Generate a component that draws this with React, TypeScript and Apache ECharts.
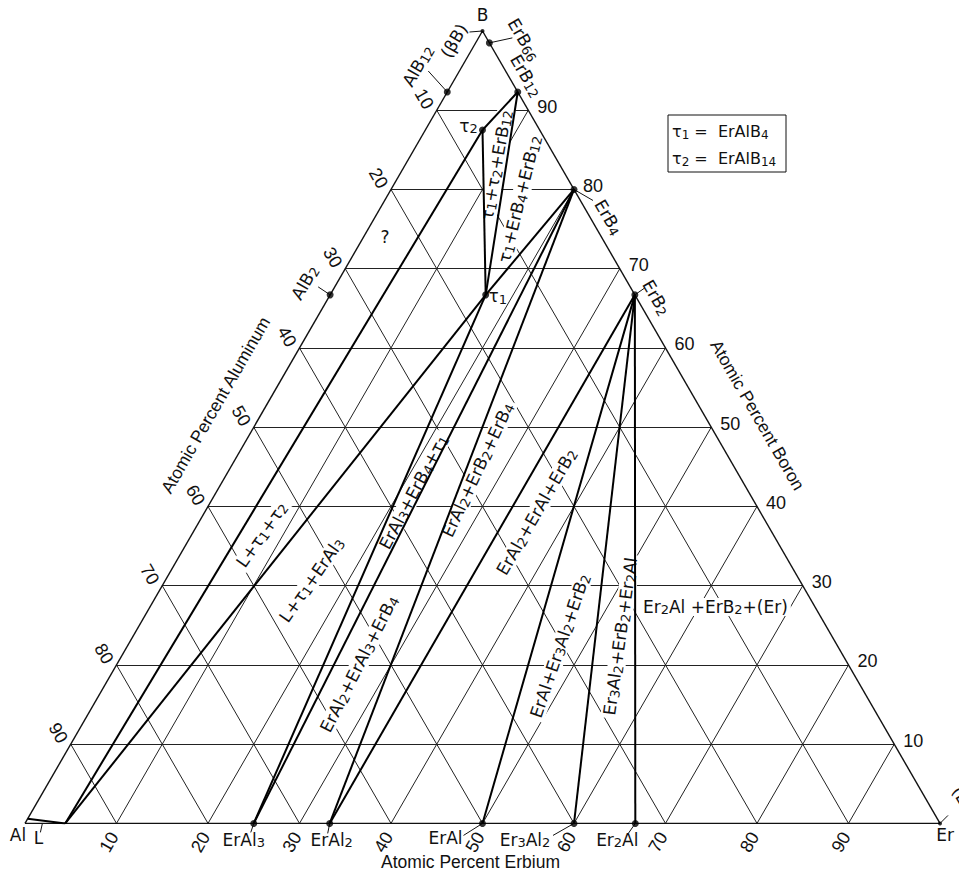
import React, { useEffect, useRef } from "react";
import * as echarts from "echarts";

// ---------------- data ----------------
const TICKS = [10, 20, 30, 40, 50, 60, 70, 80, 90];
const TICK_LABELS = ["10", "20", "30", "40", "50", "60", "70", "80", "90"];

// phase compositions: at.% Er, at.% B (Al = remainder)
const compoundNames = ["Al", "Er", "B", "ErAl3", "ErAl2", "ErAl", "Er3Al2", "Er2Al", "ErB2", "ErB4", "ErB12", "ErB66", "AlB12", "AlB2", "τ1", "τ2", "L", "Lb"];
const compoundEr = [0, 100, 0, 25, 33.3, 50, 60, 66.7, 33.3, 20, 7.7, 1.5, 0, 0, 17, 6.25, 4.4, 0];
const compoundB = [0, 0, 100, 0, 0, 0, 0, 0, 66.7, 80, 92.3, 98.5, 92.3, 66.7, 66.7, 87.5, 0, 0.6];

const dottedPhases = ["ErAl3", "ErAl2", "ErAl", "Er3Al2", "Er2Al", "ErB2", "ErB4", "ErB12", "ErB66", "AlB12", "AlB2", "τ1", "τ2"];
const vertexDots = ["B", "Er"];

// tie lines (three-phase triangle sides)
const tieFrom = ["L", "L", "τ1", "τ2", "τ1", "τ1", "τ1", "ErB4", "ErB4", "ErB2", "ErB2", "ErB2", "ErB2", "Lb"];
const tieTo = ["τ2", "τ1", "τ2", "ErB12", "ErB12", "ErB4", "ErAl3", "ErAl3", "ErAl2", "ErAl2", "ErAl", "Er3Al2", "Er2Al", "L"];

// phase-field labels: text, anchor composition (Er, B), rotation
const regionText = ["τ_1+τ_2+ErB_12", "τ_1+ErB_4+ErB_12", "L+τ_1+τ_2", "L+τ_1+ErAl_3", "ErAl_2+ErAl_3+ErB_4", "ErAl_3+ErB_4+τ_1", "ErAl_2+ErB_2+ErB_4", "ErAl_2+ErAl+ErB_2", "ErAl+Er_3Al_2+ErB_2", "Er_3Al_2+ErB_2+Er_2Al", "Er_2Al +ErB_2+(Er)", "?"];
const regionEr = [10.0, 14.7, 7.7, 16.0, 26.5, 21.6, 27.2, 36.3, 47.3, 53.3, 61.8, 2.4];
const regionB = [83.1, 78.8, 36.4, 30.7, 20.1, 41.8, 44.6, 39.3, 22.4, 23.6, 27.3, 73.9];
const regionRot = [80, 76, 55, 55, 63, 62, 65, 60, 71, 82, 0, 0];

// ---------------- helpers ----------------
const S = Math.sqrt(3) / 2;
const xy = (er: number, b: number) => [(er + b / 2) / 100, (b / 100) * S];
const compOf = (name: string) => {
  const i = compoundNames.indexOf(name);
  return [compoundEr[i], compoundB[i]];
};
const FONT_LAB = "'DejaVu Sans', sans-serif";
const FONT_AX = "'Liberation Sans', Arial, sans-serif";

function richText(s: string) {
  const parts = s.split(/_(\d+)/);
  let out = "";
  parts.forEach((p, i) => {
    if (!p) return;
    out += i % 2 === 1 ? `{s|${p}}` : `{m|${p}}`;
  });
  return out;
}

type Lab = { t: string; at: number[]; dx?: number; dy?: number; rot?: number; leader?: number[]; bg?: boolean; size?: number; font?: string };

const labels: Lab[] = [];
TICKS.forEach((k, i) => {
  labels.push({ t: TICK_LABELS[i], at: [k, 0], dx: -7, dy: 19, rot: 60, font: FONT_AX, size: 18 });
  labels.push({ t: TICK_LABELS[i], at: [0, 100 - k], dx: -13, dy: -11, rot: -60, font: FONT_AX, size: 18 });
  labels.push({ t: TICK_LABELS[i], at: [100 - k, k], dx: 19, dy: -3, rot: 0, font: FONT_AX, size: 18 });
});
labels.push({ t: "Atomic Percent Erbium", at: [50, 0], dx: -12, dy: 39, font: FONT_AX, size: 17.5 });
labels.push({ t: "Atomic Percent Aluminum", at: [0, 50], dx: -38, dy: -22, rot: 60, font: FONT_AX, size: 17.5 });
labels.push({ t: "Atomic Percent Boron", at: [50, 50], dx: 46, dy: -12, rot: -60, font: FONT_AX, size: 17.5 });

regionText.forEach((t, i) => {
  labels.push({ t, at: [regionEr[i], regionB[i]], rot: regionRot[i], bg: true });
});

const compoundLabels: { t: string; of: string; dx: number; dy: number; rot?: number; leader?: number[] }[] = [
  { t: "B", of: "B", dx: 0, dy: -16 },
  { t: "(βB)", of: "B", dx: -28, dy: 10, rot: 60, leader: [-13, 1] },
  { t: "ErB_66", of: "ErB66", dx: 34, dy: -3, rot: -60, leader: [23, -5] },
  { t: "ErB_12", of: "ErB12", dx: 8, dy: -16, rot: -60 },
  { t: "ErB_4", of: "ErB4", dx: 34, dy: 28, rot: -60, leader: [19, 11] },
  { t: "ErB_2", of: "ErB2", dx: 21, dy: 3, rot: -60, leader: [10, -7] },
  { t: "AlB_12", of: "AlB12", dx: -29, dy: -26, rot: 60, leader: [-19, -21] },
  { t: "AlB_2", of: "AlB2", dx: -25, dy: -12, rot: 60, leader: [-12, -8] },
  { t: "τ_2", of: "τ2", dx: -14, dy: -4 },
  { t: "τ_1", of: "τ1", dx: 12, dy: 2 },
  { t: "ErAl_3", of: "ErAl3", dx: -10, dy: 17, leader: [-3, 9] },
  { t: "ErAl_2", of: "ErAl2", dx: 2, dy: 17, leader: [-2, 10] },
  { t: "ErAl", of: "ErAl", dx: -37, dy: 15, leader: [-19, 12] },
  { t: "Er_3Al_2", of: "Er3Al2", dx: -49, dy: 17, leader: [-21, 12] },
  { t: "Er_2Al", of: "Er2Al", dx: -18, dy: 17, leader: [-7, 10] },
  { t: "Al", of: "Al", dx: -7, dy: 12 },
  { t: "Er", of: "Er", dx: 5, dy: 12 },
  { t: "(Er)", of: "Er", dx: 24, dy: -22, rot: -60, leader: [8, -8] },
];
compoundLabels.forEach((c) => labels.push({ t: c.t, at: compOf(c.of), dx: c.dx, dy: c.dy, rot: c.rot, leader: c.leader }));
labels.push({ t: "L", at: [1.9, 0], dx: -4, dy: 15, leader: [-2, 9] });

// grid segments
const gridSegs: number[][][] = [];
TICKS.forEach((k) => {
  gridSegs.push([xy(0, k), xy(100 - k, k)]);
  gridSegs.push([xy(k, 0), xy(k, 100 - k)]);
  gridSegs.push([xy(0, 100 - k), xy(100 - k, 0)]);
});
const edgeSegs = [
  [xy(0, 0), xy(100, 0)],
  [xy(100, 0), xy(0, 100)],
  [xy(0, 100), xy(0, 0)],
];
const tieSegs = tieFrom.map((f, i) => {
  const a = compOf(f);
  const b = compOf(tieTo[i]);
  return [xy(a[0], a[1]), xy(b[0], b[1])];
});

export default function App() {
  const ref = useRef<HTMLDivElement>(null);
  useEffect(() => {
    if (!ref.current) return;
    const chart = echarts.init(ref.current, undefined, { renderer: "svg" });
    const option: any = {
      animation: false,
      backgroundColor: "#fff",
      grid: { left: 25, top: 31, width: 915, height: 915 * S, containLabel: false },
      xAxis: { type: "value", min: 0, max: 1, show: false },
      yAxis: { type: "value", min: 0, max: S, show: false },
      series: [
        {
          type: "lines",
          coordinateSystem: "cartesian2d",
          z: 1,
          silent: true,
          lineStyle: { color: "#222", width: 1, opacity: 1 },
          data: gridSegs.map((c) => ({ coords: c })),
        },
        {
          type: "custom",
          coordinateSystem: "cartesian2d",
          z: 2,
          clip: false,
          silent: true,
          data: labels.map((l) => xy(l.at[0], l.at[1])),
          renderItem: (params: any, api: any) => {
            const L = labels[params.dataIndex];
            const p = api.coord([api.value(0), api.value(1)]);
            const children: any[] = [];
            if (L.leader) {
              children.push({
                type: "line",
                shape: { x1: p[0], y1: p[1], x2: p[0] + L.leader[0], y2: p[1] + L.leader[1] },
                style: { stroke: "#111", lineWidth: 1 },
              });
            }
            const fs = L.size ?? 17;
            const sub = Math.round(fs * 0.76);
            const ff = L.font ?? FONT_LAB;
            const style: any = {
              text: richText(L.t),
              align: "center",
              verticalAlign: "middle",
              fill: "#111",
              rich: {
                m: { fontSize: fs, fontFamily: ff, lineHeight: fs + 1, verticalAlign: "top", fill: "#111" },
                s: { fontSize: sub, fontFamily: ff, lineHeight: sub, padding: [Math.round(fs * 0.42), 0, 0, 0], verticalAlign: "bottom", fill: "#111" },
              },
            };
            if (L.bg) {
              style.backgroundColor = "#fff";
              style.padding = [0, 3];
            }
            children.push({
              type: "text",
              x: p[0] + (L.dx ?? 0),
              y: p[1] + (L.dy ?? 0),
              rotation: ((L.rot ?? 0) * Math.PI) / 180,
              style,
            });
            return { type: "group", children };
          },
        },
        {
          type: "lines",
          coordinateSystem: "cartesian2d",
          z: 3,
          silent: true,
          lineStyle: { color: "#111", width: 1.4, opacity: 1 },
          data: edgeSegs.map((c) => ({ coords: c })),
        },
        {
          type: "lines",
          coordinateSystem: "cartesian2d",
          z: 3,
          silent: true,
          lineStyle: { color: "#000", width: 2, opacity: 1 },
          data: tieSegs.map((c) => ({ coords: c })),
        },
        {
          type: "scatter",
          z: 4,
          silent: true,
          symbolSize: 7,
          itemStyle: { color: "#000" },
          data: dottedPhases.map((n) => {
            const c = compOf(n);
            return xy(c[0], c[1]);
          }),
        },
        {
          type: "scatter",
          z: 4,
          silent: true,
          symbolSize: 4,
          itemStyle: { color: "#000" },
          data: vertexDots.map((n) => {
            const c = compOf(n);
            return xy(c[0], c[1]);
          }),
        },
      ],
      graphic: [
        {
          type: "rect",
          shape: { x: 668, y: 115, width: 118, height: 57 },
          style: { fill: "#fff", stroke: "#111", lineWidth: 1 },
          z: 10,
        },
        {
          type: "text",
          x: 672,
          y: 132,
          z: 11,
          style: {
            text: "{m|τ}{s|1}{m| =  ErAlB}{s|4}",
            verticalAlign: "middle",
            align: "left",
            rich: {
              m: { fontSize: 16, fontFamily: FONT_LAB, lineHeight: 17, verticalAlign: "top", fill: "#111" },
              s: { fontSize: 12, fontFamily: FONT_LAB, lineHeight: 12, padding: [7, 0, 0, 0], verticalAlign: "bottom", fill: "#111" },
            },
          },
        },
        {
          type: "text",
          x: 672,
          y: 159,
          z: 11,
          style: {
            text: "{m|τ}{s|2}{m| =  ErAlB}{s|14}",
            verticalAlign: "middle",
            align: "left",
            rich: {
              m: { fontSize: 16, fontFamily: FONT_LAB, lineHeight: 17, verticalAlign: "top", fill: "#111" },
              s: { fontSize: 12, fontFamily: FONT_LAB, lineHeight: 12, padding: [7, 0, 0, 0], verticalAlign: "bottom", fill: "#111" },
            },
          },
        },
      ],
    };
    chart.setOption(option);
    return () => chart.dispose();
  }, []);
  return <div ref={ref} style={{ position: "fixed", left: 0, top: 0, width: 959, height: 873, background: "#fff" }} />;
}
